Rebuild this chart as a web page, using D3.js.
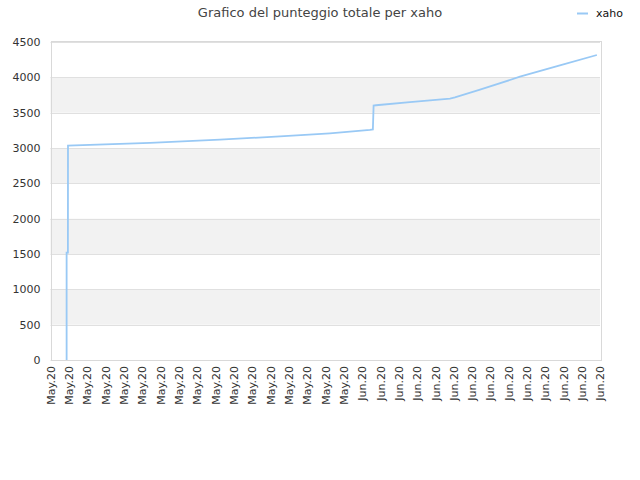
<!DOCTYPE html>
<html>
<head>
<meta charset="utf-8">
<script src="https://cdn.jsdelivr.net/npm/d3@7"></script>
<style>
  body { margin: 0; background: #fff; }
  text { font-family: "DejaVu Sans", sans-serif; }
</style>
</head>
<body>
<script>
const width = 640;
const height = 480;

// x axis: one label per day
const tickLabels = [
  "May.20","May.20","May.20","May.20","May.20","May.20","May.20","May.20","May.20",
  "May.20","May.20","May.20","May.20","May.20","May.20","May.20","May.20",
  "Jun.20","Jun.20","Jun.20","Jun.20","Jun.20","Jun.20","Jun.20","Jun.20","Jun.20",
  "Jun.20","Jun.20","Jun.20","Jun.20","Jun.20"
];
const yTicks = [0, 500, 1000, 1500, 2000, 2500, 3000, 3500, 4000, 4500];

// series: day offset from first label, total score
const days   = [0.88, 0.88, 0.95, 0.955, 5.43, 9.25, 12.53, 15.25, 17.44, 17.60, 17.64, 17.77, 19.62, 21.81, 22.08, 23.45, 25.63, 27.81, 29.83];
const scores = [0,    1520, 1520, 3033,  3072, 3118, 3165,  3208,  3255,  3262,  3600,  3605,  3650,  3700,  3715,  3825,  4009,  4170,  4316];
const seriesName = "xaho";

const margin = {top: 42, right: 40, bottom: 120, left: 50.5};

const svg = d3.select("body").append("svg")
    .attr("width", width)
    .attr("height", height);

const x = d3.scaleLinear()
    .domain([0, tickLabels.length - 1])
    .range([margin.left, width - margin.right]);

const y = d3.scaleLinear()
    .domain([0, 4500])
    .range([height - margin.bottom, margin.top]);

// alternating bands
svg.append("g")
    .selectAll()
    .data(yTicks.slice(0, -1).filter((d, i) => i % 2 === 1))
    .join("rect")
    .attr("x", x(0))
    .attr("width", x(tickLabels.length - 1) - x(0))
    .attr("y", d => y(d + 500))
    .attr("height", d => y(d) - y(d + 500))
    .attr("fill", "#f2f2f2");

// grid lines
svg.append("g")
    .attr("stroke", "#e0e0e0")
    .selectAll()
    .data(yTicks)
    .join("line")
    .attr("x1", x(0))
    .attr("x2", x(tickLabels.length - 1))
    .attr("y1", d => Math.round(y(d)) + 0.5)
    .attr("y2", d => Math.round(y(d)) + 0.5);

// frame
svg.append("rect")
    .attr("x", Math.round(x(0)) + 0.5)
    .attr("y", Math.round(y(4500)) - 0.5)
    .attr("width", Math.round(x(tickLabels.length - 1) - x(0)))
    .attr("height", Math.round(y(0) - y(4500)) + 1)
    .attr("fill", "none")
    .attr("stroke", "#d9d9d9");

// y axis
const yAxis = svg.append("g")
    .attr("transform", `translate(${margin.left},0)`)
    .call(d3.axisLeft(y).tickValues(yTicks).tickFormat(d3.format("d")).tickSize(0).tickPadding(10));
yAxis.select(".domain").remove();
yAxis.selectAll("text")
    .attr("font-size", 11)
    .attr("fill", "#333");

// x axis
const xAxis = svg.append("g")
    .attr("transform", `translate(0,${height - margin.bottom})`)
    .call(d3.axisBottom(x)
        .tickValues(d3.range(tickLabels.length))
        .tickFormat(i => tickLabels[i])
        .tickSize(0));
xAxis.select(".domain").remove();
xAxis.selectAll("text")
    .attr("font-size", 11)
    .attr("fill", "#333")
    .attr("text-anchor", "end")
    .attr("dy", "0.35em")
    .attr("transform", "translate(0,6) rotate(-90)")
    .attr("x", 0)
    .attr("y", 0);

// line
const line = d3.line()
    .x((d, i) => x(days[i]))
    .y(d => y(d));

svg.append("path")
    .datum(scores)
    .attr("fill", "none")
    .attr("stroke", "#99c9f5")
    .attr("stroke-width", 1.8)
    .attr("d", line);

// title
svg.append("text")
    .attr("x", width / 2)
    .attr("y", 17)
    .attr("text-anchor", "middle")
    .attr("font-size", 13)
    .attr("fill", "#444")
    .text("Grafico del punteggio totale per " + seriesName);

// legend
svg.append("line")
    .attr("x1", 577).attr("x2", 588)
    .attr("y1", 13.5).attr("y2", 13.5)
    .attr("stroke", "#99c9f5")
    .attr("stroke-width", 2);
svg.append("text")
    .attr("x", 596)
    .attr("y", 17)
    .attr("font-size", 11)
    .attr("fill", "#111")
    .text(seriesName);
</script>
</body>
</html>
